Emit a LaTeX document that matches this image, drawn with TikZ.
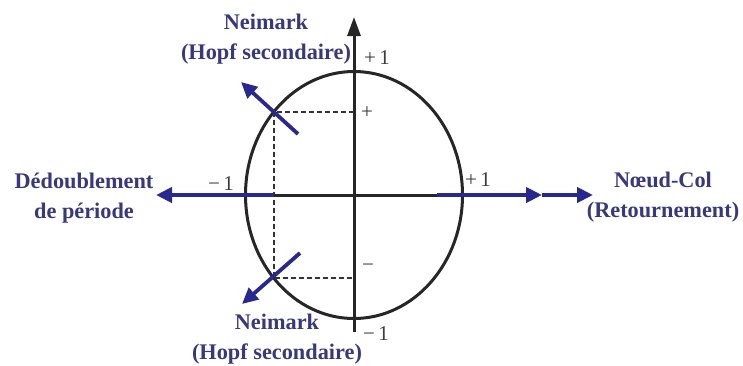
\documentclass[tikz,border=0pt]{standalone}
\usepackage{fontspec}
\setmainfont{Liberation Serif}
\usetikzlibrary{arrows.meta}
\definecolor{navy}{RGB}{40,40,145}
\definecolor{lab}{RGB}{55,55,130}
\definecolor{num}{RGB}{60,60,60}
\begin{document}
\begin{tikzpicture}[x=1pt,y=-1pt,
  lbl/.style={font=\fontsize{22.3}{30}\selectfont\bfseries, text=lab, align=center, inner sep=0pt},
  numlbl/.style={font=\fontsize{21}{24}\selectfont, text=num, inner sep=0pt},
  navyline/.style={draw=navy, line width=4.2pt},
  tipb/.style={-{Triangle[length=16pt,width=15pt]}},
  axisline/.style={line width=3pt, draw=black!85},
  dashline/.style={line width=2pt, draw=black!80, dash pattern=on 5pt off 3pt}
]
\useasboundingbox (0,0) rectangle (743,365);

\coordinate (O) at (354,195);
\coordinate (top) at (354,17);
\coordinate (bot) at (354,332);
\draw[axisline, -{Triangle[length=19pt,width=13pt]}] (bot) -- (top);
\draw[axisline] (O) ellipse [x radius=108.5, y radius=123.5];

% Neimark points and dashed projections
\coordinate (P) at (273.5,112);
\coordinate (Q) at (273.5,278);
\coordinate (Py) at (354,112);
\coordinate (Qy) at (354,278);
\draw[dashline] (Py) -- (P) -- (Q) -- (Qy);

% horizontal axis
\coordinate (Lm) at (273.5,195);
\coordinate (Rm) at (437,195);
\coordinate (Ltip) at (156,195);
\coordinate (R1) at (542,195);
\coordinate (R2) at (593,195);
\draw[axisline] (Lm) -- (Rm);
\draw[navyline, tipb] (Lm) -- (Ltip);
\draw[navyline, tipb] (Rm) -- (R1);
\draw[navyline, tipb] (R1) -- (R2);

% Neimark arrows
\coordinate (Pt) at (298,134);
\coordinate (Ph) at (241,82);
\coordinate (Qt) at (300,253);
\coordinate (Qh) at (242,304);
\draw[navyline, line width=3.8pt, tipb] (Pt) -- (Ph);
\draw[navyline, line width=3.8pt, tipb] (Qt) -- (Qh);

% labels
\node[lbl] (nt) at (266,39) {Neimark\\(Hopf secondaire)};
\node[lbl] (nb) at (277,339) {Neimark\\(Hopf secondaire)};
\node[lbl] (dp) at (84,198) {Dédoublement\\de période};
\node[lbl] (nc) at (663,197) {Nœud-Col\\(Retournement)};

% numbers
\node[numlbl] (ptop) at (377,58) {+\,1};
\node[numlbl] (pbot) at (376,334) {−\,1};
\node[numlbl] (pl) at (221,184) {−\,1};
\node[numlbl] (pr) at (478,180) {+\,1};
\node[numlbl] (pp) at (367,113) {+};
\node[numlbl] (pm) at (368,268) {−};
\end{tikzpicture}
\end{document}
